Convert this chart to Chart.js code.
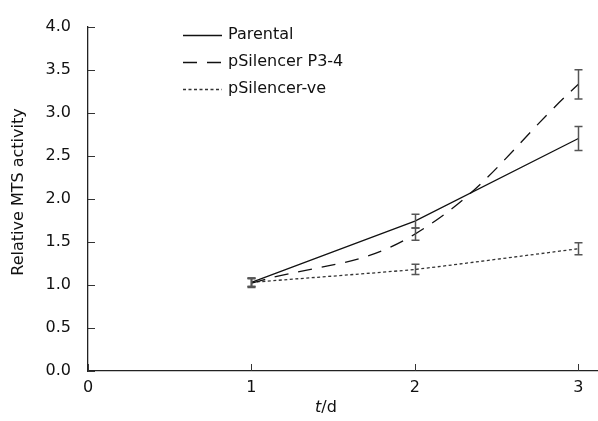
<!DOCTYPE html>
<html><head><meta charset="utf-8">
<script src="https://cdn.jsdelivr.net/npm/chart.js@4"></script>
<style>html,body{margin:0;padding:0;background:#fff}#c{display:block}</style>
</head><body>
<canvas id="c" width="598" height="421"></canvas>
<script>
const days = [1, 2, 3];
const seriesNames = ["Parental", "pSilencer P3-4", "pSilencer-ve"];
const parental = [1.03, 1.74, 2.70];
const parentalErr = [0.05, 0.08, 0.14];
const p34 = [1.02, 1.59, 3.33];
const p34Err = [0.05, 0.07, 0.17];
const ve = [1.03, 1.18, 1.42];
const veErr = [0.05, 0.06, 0.07];
const yTicks = [0, 0.5, 1, 1.5, 2, 2.5, 3, 3.5, 4];
const xTicks = [0, 1, 2, 3];

const FONT = "'DejaVu Sans', sans-serif";
const FS = 16;
const pts = (ys) => days.map((d, i) => ({x: d, y: ys[i]}));

const errorBars = {
  id: 'errorBars',
  afterDatasetsDraw(chart) {
    const ctx = chart.ctx, xs = chart.scales.x, ys = chart.scales.y;
    const errs = [parentalErr, p34Err, veErr];
    const vals = [parental, p34, ve];
    ctx.save();
    ctx.strokeStyle = '#555';
    ctx.lineWidth = 1.5;
    ctx.setLineDash([]);
    vals.forEach((arr, s) => {
      arr.forEach((v, i) => {
        const px = Math.round(xs.getPixelForValue(days[i])) + 0.5;
        const t = ys.getPixelForValue(v + errs[s][i]);
        const b = ys.getPixelForValue(v - errs[s][i]);
        ctx.beginPath();
        ctx.moveTo(px, t); ctx.lineTo(px, b);
        ctx.moveTo(px - 4, t); ctx.lineTo(px + 4, t);
        ctx.moveTo(px - 4, b); ctx.lineTo(px + 4, b);
        ctx.stroke();
      });
    });
    ctx.restore();
  }
};

const decorations = {
  id: 'decorations',
  afterDraw(chart) {
    const ctx = chart.ctx, xs = chart.scales.x, ys = chart.scales.y;
    const area = chart.chartArea;
    ctx.save();
    ctx.strokeStyle = '#333';
    ctx.lineWidth = 1;
    yTicks.forEach(v => {
      const py = Math.round(ys.getPixelForValue(v)) + 0.5;
      ctx.beginPath(); ctx.moveTo(area.left, py); ctx.lineTo(area.left + 7, py); ctx.stroke();
    });
    xTicks.forEach(v => {
      const px = Math.round(xs.getPixelForValue(v)) + 0.5;
      ctx.beginPath(); ctx.moveTo(px, area.bottom); ctx.lineTo(px, area.bottom - 7); ctx.stroke();
    });
    ctx.fillStyle = '#111';
    ctx.textBaseline = 'middle';
    ctx.font = 'italic ' + FS + 'px ' + FONT;
    const w1 = ctx.measureText('t').width;
    ctx.font = FS + 'px ' + FONT;
    const w2 = ctx.measureText('/d').width;
    const cx = 326, cy = 408;
    let sx = cx - (w1 + w2) / 2;
    ctx.textAlign = 'left';
    ctx.font = 'italic ' + FS + 'px ' + FONT;
    ctx.fillText('t', sx, cy);
    ctx.font = FS + 'px ' + FONT;
    ctx.fillText('/d', sx + w1, cy);
    ctx.save();
    ctx.translate(19, 192);
    ctx.rotate(-Math.PI / 2);
    ctx.textAlign = 'center';
    ctx.fillText('Relative MTS activity', 0, 0);
    ctx.restore();
    const rows = [35, 62, 89];
    chart.data.datasets.forEach((ds, i) => {
      ctx.strokeStyle = ds.borderColor;
      ctx.lineWidth = ds.borderWidth;
      ctx.setLineDash(ds.borderDash || []);
      ctx.beginPath(); ctx.moveTo(183, rows[i] + 0.5); ctx.lineTo(222, rows[i] + 0.5); ctx.stroke();
      ctx.setLineDash([]);
      ctx.fillStyle = '#111';
      ctx.textAlign = 'left';
      ctx.font = FS + 'px ' + FONT;
      ctx.fillText(ds.label, 228, rows[i]);
    });
    ctx.restore();
  }
};

new Chart(document.getElementById('c'), {
  type: 'line',
  data: {
    datasets: [
      {label: seriesNames[0], data: pts(parental), borderColor: '#111', borderWidth: 1.3, tension: 0, pointRadius: 0, fill: false},
      {label: seriesNames[1], data: pts(p34), borderColor: '#111', borderWidth: 1.3, borderDash: [14, 10], tension: 0.4, pointRadius: 0, fill: false},
      {label: seriesNames[2], data: pts(ve), borderColor: '#333', borderWidth: 1.3, borderDash: [3, 2.5], tension: 0.15, pointRadius: 0, fill: false}
    ]
  },
  options: {
    responsive: false,
    animation: false,
    layout: {padding: {top: 20, right: 0, left: 0, bottom: 0}},
    plugins: {legend: {display: false}, tooltip: {enabled: false}},
    scales: {
      x: {
        type: 'linear', min: 0, max: 3.12,
        afterBuildTicks: (s) => { s.ticks = xTicks.map(v => ({value: v})); },
        afterFit: (s) => { s.height = 50; },
        grid: {display: false, drawTicks: false},
        border: {display: true, color: '#222', width: 1.3},
        ticks: {color: '#111', padding: 7, font: {family: FONT, size: FS}, callback: (v) => String(v), maxRotation: 0}
      },
      y: {
        type: 'linear', min: 0, max: 4,
        afterBuildTicks: (s) => { s.ticks = yTicks.map(v => ({value: v})); },
        afterFit: (s) => { s.width = 88; },
        grid: {display: false, drawTicks: false},
        border: {display: true, color: '#222', width: 1.3},
        ticks: {color: '#111', padding: 17, font: {family: FONT, size: FS}, callback: (v) => Number(v).toFixed(1)}
      }
    }
  },
  plugins: [errorBars, decorations]
});
</script>
</body></html>
